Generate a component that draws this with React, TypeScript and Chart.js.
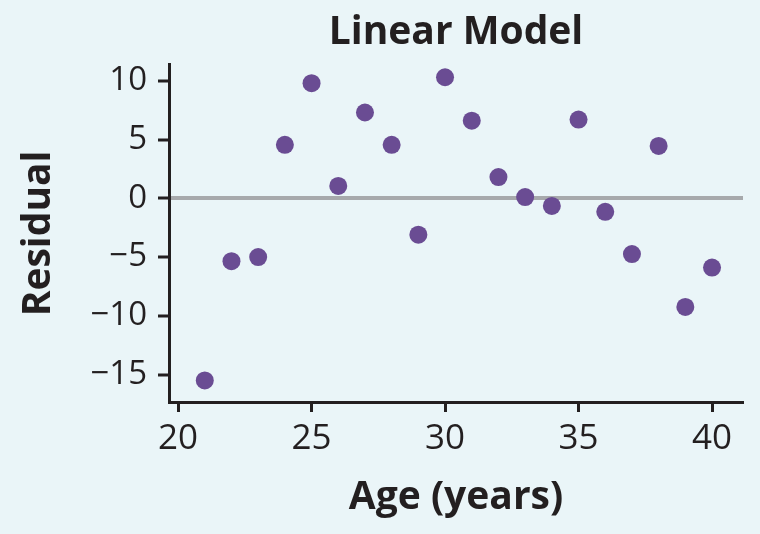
import React, { useEffect, useRef } from "react";
import { Chart, registerables } from "chart.js";

Chart.register(...registerables);

const ages = [21, 22, 23, 24, 25, 26, 27, 28, 29, 30, 31, 32, 33, 34, 35, 36, 37, 38, 39, 40];
const residuals = [-15.5, -5.35, -5.0, 4.55, 9.8, 1.05, 7.3, 4.55, -3.1, 10.3, 6.6, 1.8, 0.1, -0.65, 6.7, -1.15, -4.75, 4.45, -9.25, -5.9];
const xTickValues = [20, 25, 30, 35, 40];
const yTickValues = [-15, -10, -5, 0, 5, 10];
const xRange = [19.66, 41.16];
const yRange = [-17.34, 11.36];

const INK = "#231f20";
const FONT = "'Open Sans', 'Noto Sans', sans-serif";

export default function App() {
  const ref = useRef<HTMLCanvasElement | null>(null);

  useEffect(() => {
    if (!ref.current) return;
    const chart = new Chart(ref.current, {
      type: "scatter",
      data: {
        datasets: [
          {
            label: "Residual",
            data: ages.map((a, i) => ({ x: a, y: residuals[i] })),
            backgroundColor: "#6a4c93",
            borderWidth: 0,
            pointRadius: 9,
            pointHoverRadius: 9,
          },
        ],
      },
      options: {
        animation: false,
        responsive: true,
        maintainAspectRatio: false,
        layout: { padding: { left: 0, right: 17, top: 0, bottom: 0 } },
        plugins: {
          legend: { display: false },
          tooltip: { enabled: false },
          title: {
            display: true,
            text: "Linear Model",
            fullSize: false,
            color: INK,
            font: { family: FONT, size: 39, weight: "bold" },
            padding: { top: 9, bottom: 9 },
          },
        },
        scales: {
          x: {
            type: "linear",
            min: xRange[0],
            max: xRange[1],
            afterBuildTicks: (s: any) => {
              s.ticks = xTickValues.map((v) => ({ value: v }));
            },
            afterFit: (s: any) => {
              s.height = 132;
            },
            border: { display: true, color: INK, width: 3 },
            grid: {
              drawOnChartArea: false,
              drawTicks: true,
              tickLength: 10,
              tickColor: INK,
              tickWidth: 3,
            },
            ticks: {
              color: INK,
              padding: 6,
              maxRotation: 0,
              autoSkip: false,
              font: { family: FONT, size: 35 },
            },
            title: {
              display: true,
              text: "Age (years)",
              color: INK,
              font: { family: FONT, size: 39, weight: "bold" },
              padding: { top: 0, bottom: 13 },
            },
          },
          y: {
            type: "linear",
            min: yRange[0],
            max: yRange[1],
            afterBuildTicks: (s: any) => {
              s.ticks = yTickValues.map((v) => ({ value: v }));
            },
            afterFit: (s: any) => {
              s.width = 169;
            },
            border: { display: true, color: INK, width: 3 },
            grid: {
              drawOnChartArea: true,
              drawTicks: true,
              tickLength: 11,
              tickColor: INK,
              tickWidth: 3,
              color: (ctx: any) => (ctx.tick && ctx.tick.value === 0 ? "#a7a9ac" : "rgba(0,0,0,0)"),
              lineWidth: (ctx: any) => (ctx.tick && ctx.tick.value === 0 ? 4 : 0),
            },
            ticks: {
              color: INK,
              padding: 11,
              autoSkip: false,
              font: { family: FONT, size: 33 },
              callback: (v: any) => (Number(v) < 0 ? "\u2212" + Math.abs(Number(v)) : String(v)),
            },
            title: {
              display: true,
              text: "Residual",
              color: INK,
              font: { family: FONT, size: 39, weight: "bold" },
              padding: { top: 15, bottom: 0 },
            },
          },
        },
      },
    });
    return () => chart.destroy();
  }, []);

  return (
    <div
      style={{
        position: "fixed",
        left: 0,
        top: 0,
        width: 760,
        height: 534,
        background: "#eaf5f8",
      }}
    >
      <canvas ref={ref} />
    </div>
  );
}
